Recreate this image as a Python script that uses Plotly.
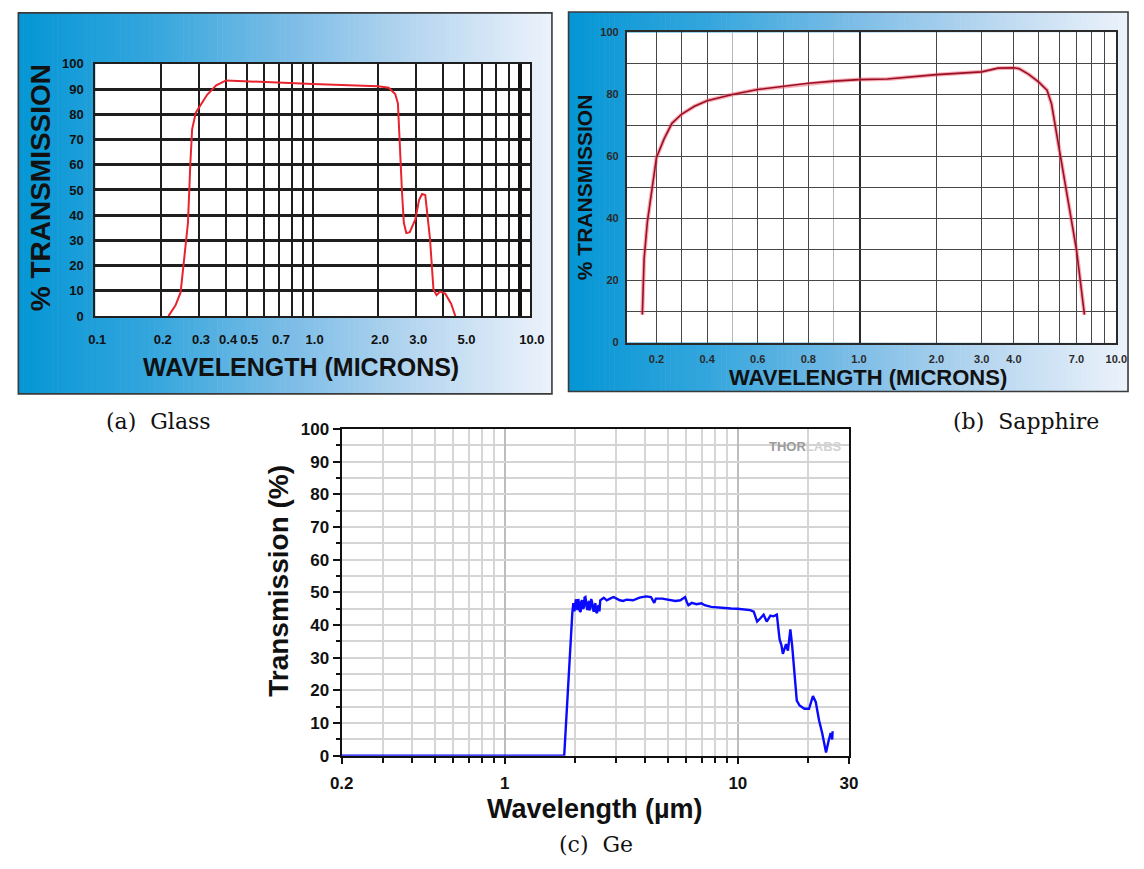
import math
import plotly.graph_objects as go

W, H = 1144, 869

# ---------------- data ----------------
# Glass: % transmission vs wavelength (microns)
glass_wavelength = [0.217, 0.234, 0.247, 0.255, 0.267, 0.274, 0.279, 0.29, 0.309, 0.327,
                    0.36, 0.4, 1.0, 2.0, 2.24, 2.4, 2.47, 2.51, 2.58, 2.63, 2.7, 2.8,
                    2.97, 3.09, 3.19, 3.3, 3.38, 3.47, 3.6, 3.72, 3.86, 4.08, 4.34, 4.54]
glass_transmission = [0, 4.3, 9.4, 20, 37, 61, 74, 80.6, 84.3, 87.7,
                      91.5, 93.4, 92, 91.1, 90.5, 88, 84.3, 70, 49, 37, 32.9, 33.3,
                      38.3, 46, 48.4, 48, 40.3, 30.6, 10.6, 8.3, 9.7, 8.9, 4.9, 0]

# Sapphire: % transmission vs wavelength (microns)
sapphire_wavelength = [0.144, 0.148, 0.151, 0.164, 0.183, 0.2, 0.23, 0.261, 0.3, 0.35,
                       0.4, 0.5, 0.6, 0.7, 0.8, 0.9, 1.0, 1.29, 2.0, 3.0, 3.47, 4.0,
                       4.2, 4.57, 5.0, 5.38, 5.6, 6.0, 6.38, 7.0, 7.52]
sapphire_transmission = [9, 17.8, 27, 39, 50, 59.7, 65.7, 70.7, 73.7, 76.2,
                         78, 80, 81.6, 82.6, 83.6, 84.3, 84.8, 85, 86.4, 87.3, 88.5, 88.6,
                         88.3, 86.5, 84, 81.4, 77, 62.7, 50, 30, 9]

# Germanium: transmission (%) vs wavelength (um)
ge_wavelength = [0.2, 1.80, 1.86, 1.91, 1.95,
                 1.97, 1.99, 2.00, 2.02, 2.03, 2.04, 2.05, 2.07, 2.08, 2.10,
                 2.12, 2.13, 2.15, 2.17, 2.19, 2.20, 2.22, 2.24, 2.26, 2.28,
                 2.30, 2.31, 2.33, 2.35, 2.37, 2.39, 2.41, 2.43, 2.45, 2.47,
                 2.49, 2.51, 2.53, 2.55, 2.57,
                 2.66, 2.74, 2.83, 2.93, 3.02, 3.12, 3.22, 3.33, 3.55, 3.79,
                 4.04, 4.24, 4.38, 4.45, 4.74, 5.06, 5.40, 5.67, 5.94, 6.04,
                 6.14, 6.34, 6.65, 6.98, 7.21, 7.69, 8.21, 8.75, 9.34, 9.96,
                 10.6, 11.3, 11.7, 12.1, 12.5, 12.9, 13.3, 13.8, 14.2, 14.7,
                 15.1, 15.4, 15.6, 16.1, 16.4, 16.8, 17.1, 17.5, 17.9, 18.4,
                 19.3, 20.2, 21.0, 21.6, 22.3, 23.0, 23.6, 23.9, 24.4, 25.0,
                 25.4, 25.5]
ge_transmission = [0, 0, 17.9, 33.7, 43.7,
                   46.7, 44.2, 45.1, 47.9, 47.1, 44.8, 44.6, 48.0, 46.7, 44.3,
                   44.1, 47.2, 47.6, 45.0, 45.6, 48.4, 48.6, 45.2, 44.6, 46.5,
                   47.4, 44.5, 45.6, 48.0, 47.1, 45.0, 44.1, 46.0, 46.7, 44.0,
                   43.7, 45.5, 46.1, 44.2, 47.6,
                   48.4, 47.6, 48.1, 48.6, 48.1, 47.6, 47.4, 47.8, 47.6, 48.4,
                   48.8, 48.6, 46.8, 48.1, 48.1, 47.8, 47.4, 47.6, 48.6, 47.1,
                   46.1, 46.8, 46.4, 46.7, 46.1, 45.6, 45.4, 45.1, 45.1, 45.0,
                   44.9, 44.6, 44.1, 41.1, 42.1, 43.2, 41.1, 42.9, 42.7, 43.2,
                   35.7, 33.7, 31.2, 34.2, 32.2, 38.7, 33.7, 23.8, 16.9, 15.4,
                   14.4, 14.4, 18.3, 16.4, 10.9, 7.0, 3.0, 1.0, 4.0, 7.0,
                   5.0, 7.5]

# tick / grid positions and labels
glass_xgrid = [0.1, 0.2, 0.3, 0.4, 0.5, 0.6, 0.7, 0.8, 0.9, 1, 2, 3, 4, 5, 6, 7, 8, 10]
glass_xlabels = {0.1: "0.1", 0.2: "0.2", 0.3: "0.3", 0.4: "0.4", 0.5: "0.5", 0.7: "0.7",
                 1: "1.0", 2: "2.0", 3: "3.0", 5: "5.0", 10: "10.0"}
glass_yticks = [0, 10, 20, 30, 40, 50, 60, 70, 80, 90, 100]

sap_lin_grid = [0.2, 0.3, 0.4, 0.6, 0.7, 0.8, 1.0]
sap_lin_light = [0.5, 0.9]
sap_lin_labels = {0.2: "0.2", 0.4: "0.4", 0.6: "0.6", 0.8: "0.8", 1.0: "1.0"}
sap_log_grid = [2, 3, 4, 5, 6, 7, 8, 9, 10]
sap_log_labels = {2: "2.0", 3: "3.0", 4: "4.0", 7: "7.0", 10: "10.0"}
sap_ygrid = [0, 10, 20, 30, 40, 50, 60, 70, 80, 90, 100]
sap_ylabels = {0: "0", 20: "20", 40: "40", 60: "60", 80: "80", 100: "100"}

ge_xmajor = [0.2, 1, 10, 30]
ge_xminor = [0.3, 0.4, 0.5, 0.6, 0.7, 0.8, 0.9, 2, 3, 4, 5, 6, 7, 8, 9, 20]
ge_ymajor = [0, 10, 20, 30, 40, 50, 60, 70, 80, 90, 100]
ge_yminor = [5, 15, 25, 35, 45, 55, 65, 75, 85, 95]

# ---------------- helpers ----------------
def fx(p):
    return p / W

def fy(p):
    return 1 - p / H

SANS = "Liberation Sans, Arial, sans-serif"
SERIF = "DejaVu Serif, Liberation Serif, serif"

# panel frames and plot areas (pixels)
panel_a = (6.5, 553, 4, 393.5)
panel_b = (570, 1143, 3, 391)
glass_dom = (85.3, 530.4, 56, 314)
sap_lin_dom = (629.5, 867.4, 24, 341)
sap_log_dom = (867.4, 1131, 24, 341)
ge_dom = (337.7, 857.3, 429.5, 763.5)

grad_stops = [(0.0, (4, 150, 213)), (0.25, (52, 166, 221)), (0.5, (122, 188, 230)),
              (0.75, (184, 215, 240)), (1.0, (236, 243, 251))]

def grad_color(t):
    for (t0, c0), (t1, c1) in zip(grad_stops[:-1], grad_stops[1:]):
        if t <= t1:
            u = (t - t0) / (t1 - t0)
            r, g, b = (round(a + (bb - a) * u) for a, bb in zip(c0, c1))
            return f"rgb({r},{g},{b})"
    r, g, b = grad_stops[-1][1]
    return f"rgb({r},{g},{b})"

shapes = []
for (x0, x1, y0, y1) in (panel_a, panel_b):
    n = 110
    for i in range(n):
        a = x0 + (x1 - x0) * i / n
        b = x0 + (x1 - x0) * (i + 1) / n + 0.6
        shapes.append(dict(type="rect", xref="paper", yref="paper", layer="below",
                           x0=fx(a), x1=fx(min(b, x1)), y0=fy(y1), y1=fy(y0),
                           fillcolor=grad_color((i + 0.5) / n), line=dict(width=0)))
for (x0, x1, y0, y1) in (glass_dom, sap_lin_dom, sap_log_dom):
    shapes.append(dict(type="rect", xref="paper", yref="paper", layer="below",
                       x0=fx(x0), x1=fx(x1), y0=fy(y1), y1=fy(y0),
                       fillcolor="white", line=dict(width=0)))
for (x0, x1, y0, y1) in (panel_a, panel_b):
    shapes.append(dict(type="rect", xref="paper", yref="paper", layer="below",
                       x0=fx(x0), x1=fx(x1), y0=fy(y1), y1=fy(y0),
                       fillcolor="rgba(0,0,0,0)", line=dict(color="#3a3a3a", width=1.6)))

fig = go.Figure()

# ---------------- traces ----------------
fig.add_trace(go.Scatter(x=glass_wavelength, y=glass_transmission, mode="lines",
                         line=dict(color="#e8232d", width=2), xaxis="x", yaxis="y",
                         showlegend=False, hoverinfo="skip"))

# sapphire: linear scale below 1 um, log scale above
sap_lo = [(w, t) for w, t in zip(sapphire_wavelength, sapphire_transmission) if w <= 1.0]
sap_hi = [(w, t) for w, t in zip(sapphire_wavelength, sapphire_transmission) if w >= 1.0]
for part, xa, ya in ((sap_lo, "x2", "y2"), (sap_hi, "x3", "y3")):
    xs = [p[0] for p in part]
    ys = [p[1] for p in part]
    fig.add_trace(go.Scatter(x=xs, y=ys, mode="lines", xaxis=xa, yaxis=ya,
                             line=dict(color="rgba(240,90,110,0.5)", width=4),
                             showlegend=False, hoverinfo="skip"))
    fig.add_trace(go.Scatter(x=xs, y=ys, mode="lines", xaxis=xa, yaxis=ya,
                             line=dict(color="#9a0f24", width=1.6),
                             showlegend=False, hoverinfo="skip"))

fig.add_trace(go.Scatter(x=ge_wavelength, y=ge_transmission, mode="lines",
                         line=dict(color="#0a0aff", width=2.4), xaxis="x4", yaxis="y4",
                         showlegend=False, hoverinfo="skip"))

# ---------------- axes ----------------
glass_font = dict(family=SANS, size=13, color="#111", weight="bold")
sap_font = dict(family=SANS, size=11, color="#2a2a2a", weight="bold")
ge_font = dict(family=SANS, size=17, color="#111", weight="bold")
SAP_GRID = "#474747"

fig.update_layout(
    xaxis=dict(type="log", range=[math.log10(0.1), math.log10(10)],
               domain=[fx(glass_dom[0]), fx(glass_dom[1])], anchor="y",
               tickmode="array", tickvals=glass_xgrid,
               ticktext=[glass_xlabels.get(v, "") for v in glass_xgrid],
               ticks="", tickangle=0, showgrid=True, gridcolor="#1e1e1e", gridwidth=2,
               minor=dict(tickmode="array", tickvals=[9], showgrid=True,
                          gridcolor="#111", gridwidth=4),
               showline=True, mirror=True, linecolor="#1e1e1e", linewidth=2,
               zeroline=False, tickfont=glass_font, ticklabelstandoff=10,
               ticklabelshift=2, fixedrange=True),
    yaxis=dict(range=[0, 100], domain=[fy(glass_dom[3]), fy(glass_dom[2])], anchor="x",
               tickmode="array", tickvals=glass_yticks,
               ticktext=[str(v) for v in glass_yticks], ticks="",
               showgrid=True, gridcolor="#1e1e1e", gridwidth=2.5,
               showline=True, mirror=True, linecolor="#1e1e1e", linewidth=2,
               zeroline=False, tickfont=glass_font, ticklabelstandoff=7, fixedrange=True),
    xaxis2=dict(type="linear", range=[0.082, 1.0],
                domain=[fx(sap_lin_dom[0]), fx(sap_lin_dom[1])], anchor="y2",
                tickmode="array", tickvals=sap_lin_grid,
                ticktext=[sap_lin_labels.get(v, "") for v in sap_lin_grid],
                ticks="", tickangle=0, showgrid=True, gridcolor=SAP_GRID, gridwidth=1.4,
                minor=dict(tickmode="array", tickvals=sap_lin_light, showgrid=True,
                           gridcolor="#b8b8b8", gridwidth=1.3),
                showline=True, mirror=True, linecolor="#2a2a2a", linewidth=2,
                zeroline=False, tickfont=sap_font, ticklabelstandoff=5, fixedrange=True),
    xaxis3=dict(type="log", range=[0, 1],
                domain=[fx(sap_log_dom[0]), fx(sap_log_dom[1])], anchor="y3",
                tickmode="array", tickvals=sap_log_grid,
                ticktext=[sap_log_labels.get(v, "") for v in sap_log_grid],
                ticks="", tickangle=0, showgrid=True, gridcolor=SAP_GRID, gridwidth=1.4,
                showline=True, mirror=True, linecolor="#2a2a2a", linewidth=2,
                zeroline=False, tickfont=sap_font, ticklabelstandoff=5, fixedrange=True),
    yaxis2=dict(range=[0, 100], domain=[fy(sap_lin_dom[3]), fy(sap_lin_dom[2])],
                anchor="x2", tickmode="array", tickvals=sap_ygrid,
                ticktext=[sap_ylabels.get(v, "") for v in sap_ygrid], ticks="",
                showgrid=True, gridcolor=SAP_GRID, gridwidth=1.4,
                showline=True, mirror=True, linecolor="#2a2a2a", linewidth=1.6,
                zeroline=False, tickfont=sap_font, ticklabelstandoff=4, fixedrange=True),
    yaxis3=dict(range=[0, 100], domain=[fy(sap_log_dom[3]), fy(sap_log_dom[2])],
                anchor="x3", side="right", tickmode="array", tickvals=sap_ygrid,
                showticklabels=False, ticks="",
                showgrid=True, gridcolor=SAP_GRID, gridwidth=1.4,
                showline=True, mirror=False, linecolor="#2a2a2a", linewidth=2,
                zeroline=False, fixedrange=True),
    xaxis4=dict(type="log", range=[math.log10(0.2), math.log10(30)],
                domain=[fx(ge_dom[0]), fx(ge_dom[1])], anchor="y4",
                tickmode="array", tickvals=ge_xmajor,
                ticktext=[("%g" % v) for v in ge_xmajor], tickangle=0,
                ticks="outside", ticklen=6, tickwidth=2, tickcolor="#111",
                showgrid=True, gridcolor="#bdbdbd", gridwidth=2,
                minor=dict(tickmode="array", tickvals=ge_xminor, ticks="outside",
                           ticklen=5, tickwidth=2, tickcolor="#111", showgrid=True,
                           gridcolor="#d6d6d6", gridwidth=1.6),
                showline=True, mirror=True, linecolor="#111", linewidth=2.4,
                zeroline=False, tickfont=ge_font, ticklabelstandoff=5, fixedrange=True),
    yaxis4=dict(range=[0, 100], domain=[fy(ge_dom[3]), fy(ge_dom[2])], anchor="x4",
                tickmode="array", tickvals=ge_ymajor,
                ticktext=[str(v) for v in ge_ymajor],
                ticks="outside", ticklen=7, tickwidth=2, tickcolor="#111",
                showgrid=True, gridcolor="#d4d4d4", gridwidth=1.8,
                minor=dict(tickmode="array", tickvals=ge_yminor, ticks="outside",
                           ticklen=4, tickwidth=2, tickcolor="#111", showgrid=True,
                           gridcolor="#d4d4d4", gridwidth=1.8),
                showline=True, mirror=True, linecolor="#111", linewidth=2.4,
                zeroline=False, tickfont=ge_font, fixedrange=True),
)

# ---------------- text ----------------
def note(text, x, y, size, family, angle=0, color="#111", bold=True, anchor="center"):
    return dict(text=text, x=fx(x), y=fy(y), xref="paper", yref="paper",
                xanchor=anchor, yanchor="middle", showarrow=False, textangle=angle,
                font=dict(family=family, size=size, color=color,
                          weight="bold" if bold else "normal"))

annotations = [
    note("% TRANSMISSION", 30, 183, 28, SANS, angle=-90),
    note("WAVELENGTH (MICRONS)", 296, 366, 25, SANS),
    note("% TRANSMISSION", 586, 182, 21, SANS, angle=-90),
    note("WAVELENGTH (MICRONS)", 877, 377, 22, SANS),
    note("Transmission (%)", 273, 585, 28, SANS, angle=-90),
    note("Wavelength (µm)", 597, 818, 27, SANS),
    note("<span style='color:#9c9c9c'>THOR</span><span style='color:#d2d2d2'>LABS</span>",
         852, 447, 13, SANS, anchor="right"),
    note("(a)  Glass", 150, 422, 22, SERIF, bold=False),
    note("(b)  Sapphire", 1039, 422, 22, SERIF, bold=False),
    note("(c)  Ge", 598, 854, 22, SERIF, bold=False),
]

fig.update_layout(
    width=W, height=H, autosize=False,
    margin=dict(l=0, r=0, t=0, b=0, pad=0),
    paper_bgcolor="white", plot_bgcolor="white",
    shapes=shapes, annotations=annotations, showlegend=False,
)

fig.write_html("out.html", config={"displayModeBar": False})
